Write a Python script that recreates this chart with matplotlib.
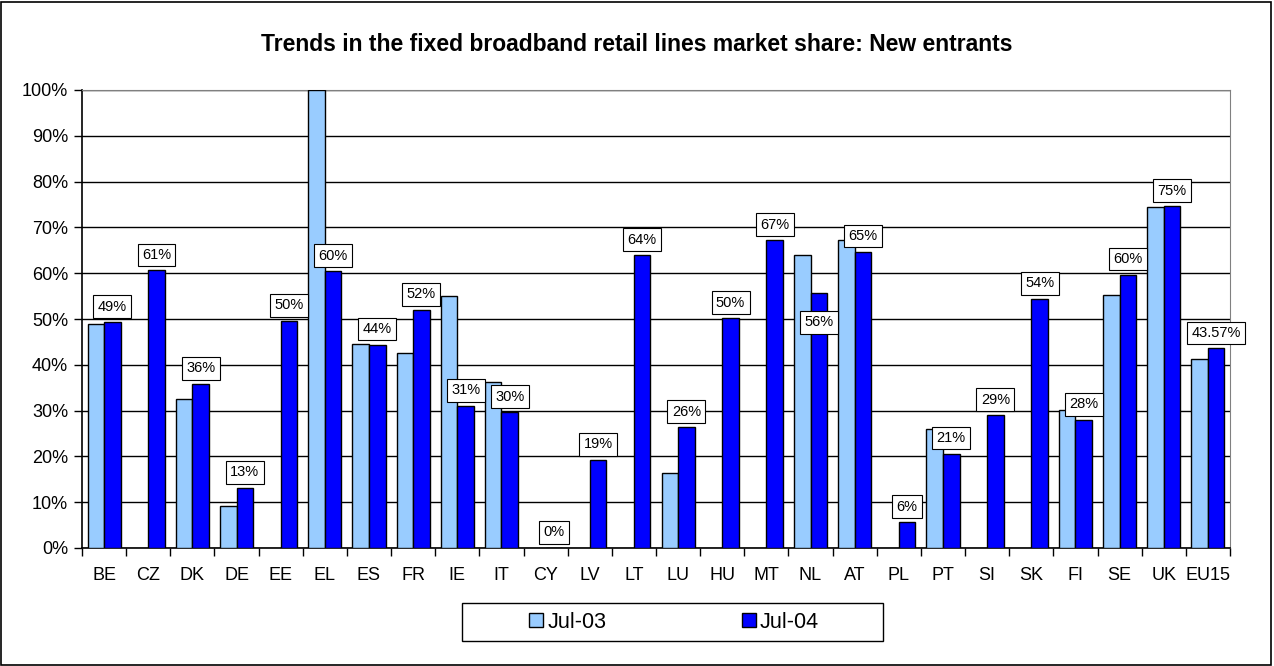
import numpy as np
from matplotlib import pyplot as plt
from matplotlib.patches import Rectangle
from matplotlib.ticker import MultipleLocator, PercentFormatter

countries = ['BE', 'CZ', 'DK', 'DE', 'EE', 'EL', 'ES', 'FR', 'IE', 'IT', 'CY', 'LV', 'LT',
             'LU', 'HU', 'MT', 'NL', 'AT', 'PL', 'PT', 'SI', 'SK', 'FI', 'SE', 'UK', 'EU15']
# market share in %, None = no data
jul03 = [48.9, None, 32.6, 9.2, None, 100.0, 44.6, 42.5, 55.1, 36.2, None, None, None,
         16.3, None, None, 64.0, 67.3, None, 25.9, None, None, 30.2, 55.2, 74.4, 41.3]
jul04 = [49.3, 60.6, 35.8, 13.1, 49.6, 60.4, 44.4, 52.0, 31.0, 29.6, 0.0, 19.2, 63.9,
         26.4, 50.2, 67.2, 55.6, 64.7, 5.6, 20.6, 29.0, 54.4, 28.0, 59.7, 74.6, 43.57]
series_names = ['Jul-03', 'Jul-04']
title = 'Trends in the fixed broadband retail lines market share: New entrants'
labels_below = ['NL']

plt.rcParams['font.family'] = ['Liberation Sans', 'DejaVu Sans']

W, H = 1274, 666
fig = plt.figure(figsize=(W / 100, H / 100), dpi=100)
fig.patches.append(Rectangle((0.001, 0.002), 0.997, 0.995, transform=fig.transFigure,
                             fill=False, edgecolor='black', linewidth=1.2))
ax = fig.add_axes([82 / W, 118 / H, 1148 / W, 458 / H])

x = np.arange(len(countries))
w = 0.375
y03 = [np.nan if v is None else v for v in jul03]
ax.bar(x - w / 2, y03, w, color='#99CCFF', edgecolor='black', linewidth=1,
       label=series_names[0], zorder=3)
ax.bar(x + w / 2, jul04, w, color='#0000FF', edgecolor='black', linewidth=1,
       label=series_names[1], zorder=3)

for i, (c, v) in enumerate(zip(countries, jul04)):
    txt = '{:.2f}%'.format(v) if c == 'EU15' else '{:.0f}%'.format(v)
    yy = v - 6.3 if c in labels_below else v + 3.4
    ax.text(x[i] + w / 2, yy, txt, ha='center', va='center', fontsize=10.5, zorder=5,
            bbox=dict(boxstyle='square,pad=0.3', facecolor='white', edgecolor='black',
                      linewidth=0.8))

ax.set_xlim(-0.5, len(countries) - 0.5)
ax.set_ylim(0, 100)
ax.yaxis.set_major_locator(MultipleLocator(10))
ax.yaxis.set_major_formatter(PercentFormatter(decimals=0))
ax.grid(axis='y', color='black', linewidth=1, zorder=0)
ax.set_xticks(x)
ax.set_xticklabels(countries)
ax.set_xticks(np.arange(-0.5, len(countries), 1), minor=True)
ax.tick_params(axis='x', which='major', length=0, pad=14, labelsize=13)
ax.tick_params(axis='x', which='minor', length=6, width=1, color='black')
ax.tick_params(axis='y', length=6, width=1, labelsize=13, pad=4)
for s in ['top', 'right']:
    ax.spines[s].set_color('#808080')
ax.spines['left'].set_linewidth(1.2)
ax.spines['bottom'].set_linewidth(1.2)

fig.suptitle(title, x=0.5, y=0.95, fontsize=16.5, fontweight='bold')

# legend: entries without frame, box drawn separately (excel-like wide box)
fig.legend(loc='center', bbox_to_anchor=(674 / W, 1 - 622 / H), ncol=2,
           fontsize=15.5, frameon=False,
           handlelength=0.65, handleheight=0.65, handletextpad=0.2,
           columnspacing=6.3, borderpad=0, borderaxespad=0)
fig.patches.append(Rectangle((462 / W, 1 - 641 / H), 421 / W, 38 / H,
                             transform=fig.transFigure, fill=False,
                             edgecolor='black', linewidth=1))

plt.savefig('out.png', dpi=100)
plt.close()
